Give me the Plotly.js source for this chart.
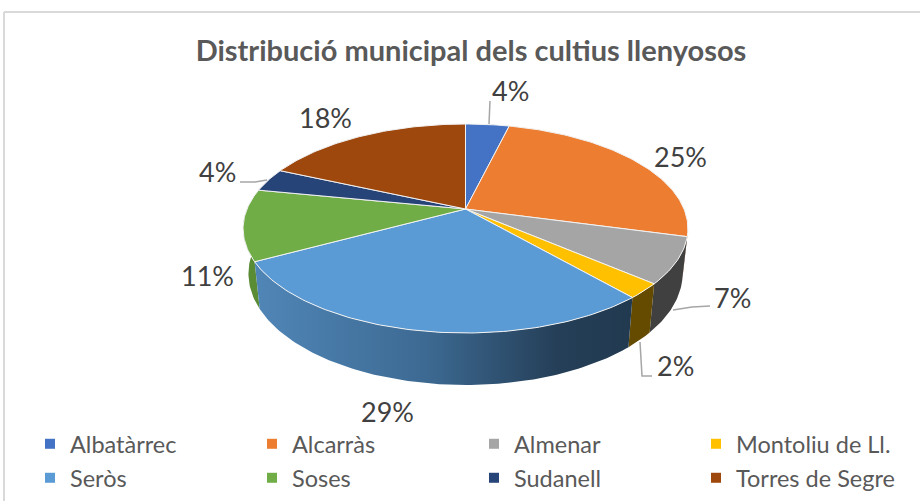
<!DOCTYPE html>
<html><head><meta charset="utf-8">
<script src="https://cdn.plot.ly/plotly-3.0.1.min.js"></script>
<style>html,body{margin:0;padding:0;background:#fff}#c{width:920px;height:501px}</style>
</head><body><div id="c"></div>
<script>
const categories = ["Albatàrrec","Alcarràs","Almenar","Montoliu de Ll.","Seròs","Soses","Sudanell","Torres de Segre"];
const shares = [3.8,25.4,7.1,2.3,28.5,11.0,3.6,18.3];
const topColors = ["#4472C4","#ED7D31","#A5A5A5","#FFC000","#5B9BD5","#70AD47","#264478","#9E480E"];
const wallColors = ["#2A4A80","#9C5020","#404040","#654B00","#3D6A93","#5A8C36","#18294A","#682F09"];
const labelX = [510,680,732,675,387,207,217,325];
const labelY = [90,156,297,365,411,275,171,117];

// perspective projection of the tilted disc onto the chart's pixel-sized axes
const CX=465.5, CY=209, A=218.5, S=100.86, K=0.1866;
function rim(deg){const r=deg*Math.PI/180,u=Math.sin(r),t=-Math.cos(r),w=1-K*t;return [CX+A*u/w,CY+S*t/w];}
function rimLow(deg){const p=rim(deg);return [CX+(p[0]-CX)*0.976,CY+(p[1]-CY)*1.066+43.8];}
function arc(fn,a,b){const n=Math.max(2,Math.ceil(Math.abs(b-a)));const o=[];for(let i=0;i<=n;i++)o.push(fn(a+(b-a)*i/n));return o;}

const total=shares.reduce((s,v)=>s+v,0);
let cum=0;
const bounds=shares.map(v=>{const a=cum/total*360;cum+=v;return [a,cum/total*360];});

const traces=[];
// side walls (front half only)
const wallFrom=100.7, wallTo=270;
const wallOrder=[0,1,2,3,7,6,5,4];
wallOrder.forEach(i=>{
  const a=Math.max(bounds[i][0],wallFrom), b=Math.min(bounds[i][1],wallTo);
  if(b<=a) return;
  const pts=arc(rim,a,b).concat(arc(rimLow,b,a));
  const tr={x:pts.map(p=>p[0]),y:pts.map(p=>p[1]),mode:'lines',fill:'toself',line:{width:0,color:wallColors[i]},
    fillcolor:wallColors[i],showlegend:false,hoverinfo:'skip',type:'scatter'};
  if(i===4){tr.fillgradient={type:'horizontal',colorscale:[[0,'#5086B7'],[0.45,'#3D6A93'],[0.8,'#253F58'],[1,'#213A50']]};}
  traces.push(tr);
});
// top faces
shares.forEach((v,i)=>{
  const pts=[[CX,CY]].concat(arc(rim,bounds[i][0],bounds[i][1]));pts.push([CX,CY]);
  traces.push({x:pts.map(p=>p[0]),y:pts.map(p=>p[1]),mode:'lines',fill:'toself',fillcolor:topColors[i],
    line:{color:'#F2F2F2',width:1},showlegend:false,name:categories[i],text:Math.round(v/total*100)+'%',hoverinfo:'name+text',type:'scatter'});
});
// legend entries
categories.forEach((c,i)=>{
  traces.push({x:[null],y:[null],mode:'markers',type:'scatter',name:c,
    marker:{symbol:'square',size:10,color:topColors[i]},legend:i<4?'legend':'legend2'});
});

const leaders=[
  [[489,124],[490,101]],
  [[673,310],[692,307],[710,306]],
  [[640,342],[642,376],[652,376]],
  [[240,182],[255,182],[267,180]]
];
const shapes=leaders.map(l=>({type:'path',xref:'x',yref:'y',
  path:l.map((p,j)=>(j?'L':'M')+p[0]+' '+p[1]).join(' '),line:{color:'#A6A6A6',width:1.5}}));
shapes.push({type:'line',xref:'x',yref:'y',x0:4,x1:920,y0:12,y1:12,line:{color:'#D9D9D9',width:2}});
shapes.push({type:'line',xref:'x',yref:'y',x0:4,x1:4,y0:12,y1:501,line:{color:'#D9D9D9',width:2}});

const annotations=shares.map((v,i)=>({x:labelX[i],y:labelY[i],xref:'x',yref:'y',text:Math.round(v/total*100)+'%',
  showarrow:false,xanchor:'center',yanchor:'middle',font:{family:'Lato',size:27,color:'#404040'}}));

const legendBase=(y)=>({orientation:'h',x:30/920,xanchor:'left',y:y,yanchor:'middle',entrywidth:177,entrywidthmode:'pixels',
  itemwidth:30,traceorder:'normal',bgcolor:'rgba(0,0,0,0)',font:{family:'Lato',size:23.5,color:'#595959'},itemclick:false,itemdoubleclick:false});

Plotly.newPlot('c',traces,{
  width:920,height:501,margin:{l:0,r:0,t:0,b:0,autoexpand:false},paper_bgcolor:'#fff',plot_bgcolor:'#fff',
  title:{text:'Distribució municipal dels cultius llenyosos',x:471/920,xanchor:'center',y:1-51/501,yanchor:'middle',
    font:{family:'Lato',size:29,weight:700,color:'#595959'}},
  xaxis:{range:[0,920],visible:false,fixedrange:true},
  yaxis:{range:[501,0],visible:false,fixedrange:true},
  legend:legendBase(1-444/501),legend2:legendBase(1-478/501),
  shapes:shapes,annotations:annotations,showlegend:true
},{displayModeBar:false});
</script></body></html>
